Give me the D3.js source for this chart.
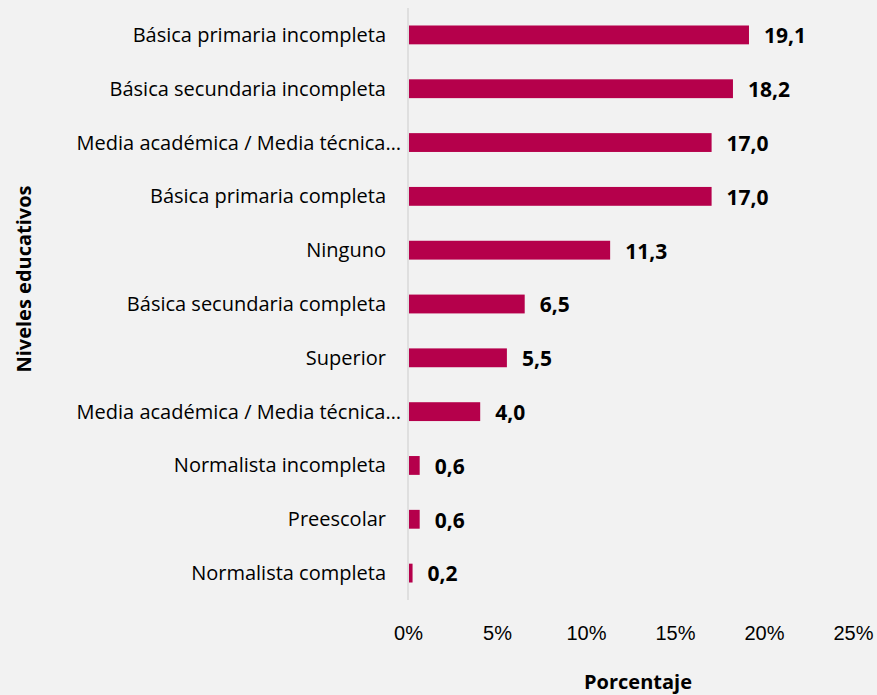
<!DOCTYPE html>
<html>
<head>
<meta charset="utf-8">
<script src="https://cdn.jsdelivr.net/npm/d3@7"></script>
<style>
    body { margin: 0; background: #f2f2f2; }
    svg { display: block; font-family: "Open Sans", "Noto Sans", sans-serif; }
</style>
</head>
<body>
<script>
const categories = [
    "Básica primaria incompleta",
    "Básica secundaria incompleta",
    "Media académica / Media técnica…",
    "Básica primaria completa",
    "Ninguno",
    "Básica secundaria completa",
    "Superior",
    "Media académica / Media técnica…",
    "Normalista incompleta",
    "Preescolar",
    "Normalista completa"
];
const values = [19.1, 18.2, 17.0, 17.0, 11.3, 6.5, 5.5, 4.0, 0.6, 0.6, 0.2];
const xTicks = [0, 5, 10, 15, 20, 25];

const width = 877, height = 695;
const plotLeft = 408, plotRight = 853, plotTop = 8, plotBottom = 600;

const svg = d3.select("body").append("svg")
    .attr("width", width)
    .attr("height", height);

svg.append("rect").attr("width", width).attr("height", height).attr("fill", "#f2f2f2");

const x = d3.scaleLinear().domain([0, 25]).range([plotLeft, plotRight]);
const y = d3.scaleBand()
    .domain(d3.range(categories.length))
    .range([plotTop, plotBottom])
    .paddingInner(0.65)
    .paddingOuter(0.325);

// bars
svg.append("g").selectAll("rect")
    .data(values)
    .join("rect")
    .attr("x", x(0) + 1)
    .attr("y", (d, i) => y(i))
    .attr("width", d => x(d) - x(0))
    .attr("height", y.bandwidth())
    .attr("fill", "#b5004b");

// vertical axis line
svg.append("line")
    .attr("x1", x(0)).attr("x2", x(0))
    .attr("y1", plotTop).attr("y2", plotBottom)
    .attr("stroke", "#d9d9d9")
    .attr("stroke-width", 1.5);

// category labels
svg.append("g").selectAll("text")
    .data(categories)
    .join("text")
    .attr("x", d => d.endsWith("…") ? 401 : 386)
    .attr("y", (d, i) => y(i) + y.bandwidth() / 2)
    .attr("dy", "0.35em")
    .attr("text-anchor", "end")
    .attr("font-size", 20)
    .attr("fill", "#000")
    .text(d => d);

// value labels
svg.append("g").selectAll("text")
    .data(values)
    .join("text")
    .attr("x", d => x(d) + 16)
    .attr("y", (d, i) => y(i) + y.bandwidth() / 2)
    .attr("dy", "0.4em")
    .attr("font-size", 21)
    .attr("font-weight", "bold")
    .attr("fill", "#000")
    .text(d => d.toFixed(1).replace(".", ","));

// x tick labels
const xAxis = d3.axisBottom(x)
    .tickValues(xTicks)
    .tickSize(0)
    .tickPadding(0)
    .tickFormat(d => d + "%");

svg.append("g")
    .attr("transform", `translate(0, 626)`)
    .call(xAxis)
    .call(g => g.select(".domain").remove())
    .call(g => g.selectAll("text")
        .attr("font-size", 20)
        .attr("font-family", "inherit")
        .attr("fill", "#000"));

// axis titles
svg.append("text")
    .attr("x", 638)
    .attr("y", 689)
    .attr("text-anchor", "middle")
    .attr("font-size", 20)
    .attr("font-weight", "bold")
    .text("Porcentaje");

svg.append("text")
    .attr("transform", "translate(31, 279) rotate(-90)")
    .attr("text-anchor", "middle")
    .attr("font-size", 20)
    .attr("font-weight", "bold")
    .text("Niveles educativos");
</script>
</body>
</html>
